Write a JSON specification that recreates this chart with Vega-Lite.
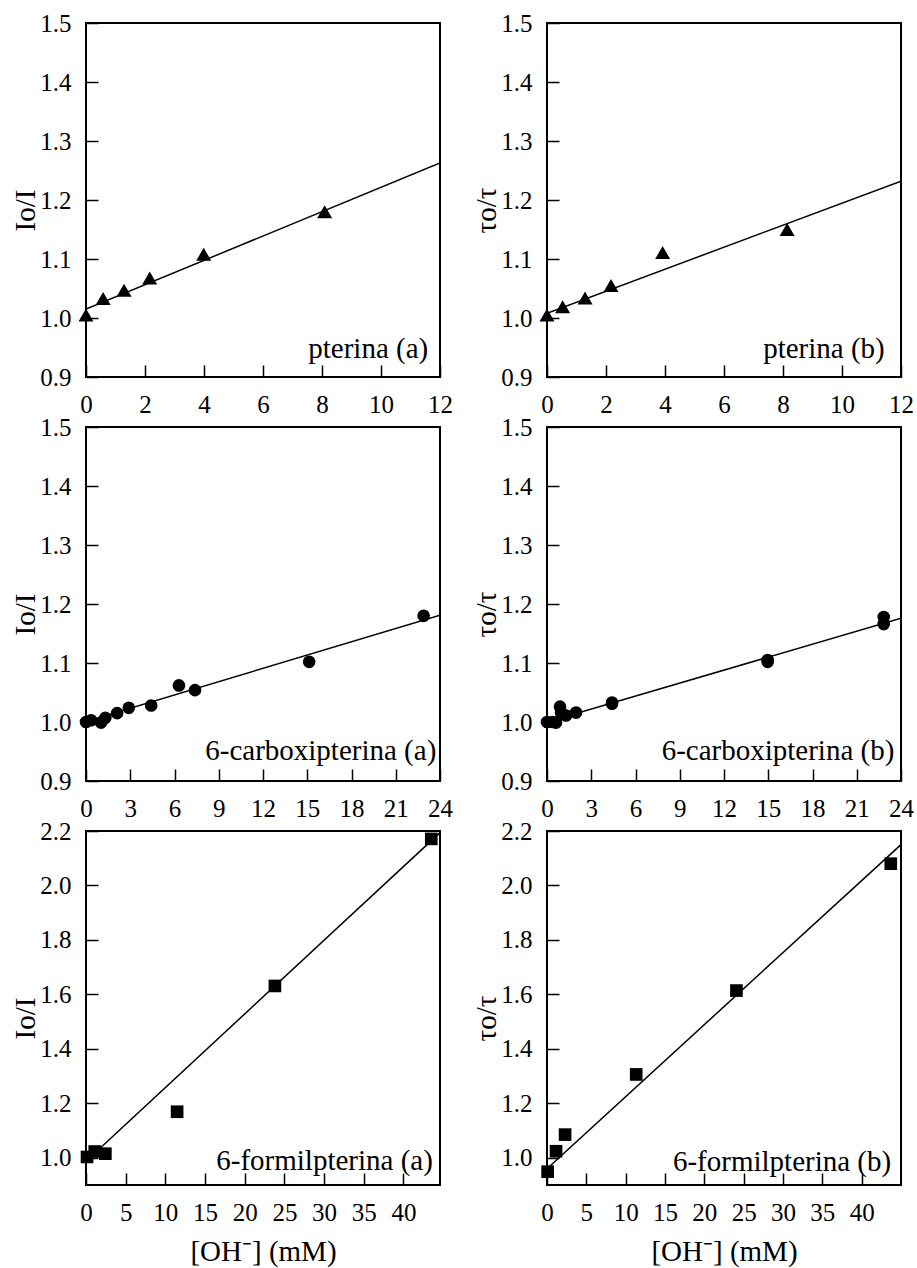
{
  "$schema": "https://vega.github.io/schema/vega-lite/v6.json",
  "background": "white",
  "padding": {"left": 10, "top": 10, "right": 5, "bottom": 5},
  "bounds": "flush",
  "columns": 2,
  "spacing": {"row": 50, "column": 107},
  "config": {
    "font": "Liberation Serif",
    "view": {"stroke": "black", "strokeWidth": 2},
    "axis": {
      "labelFont": "Liberation Serif", "titleFont": "Liberation Serif",
      "labelFontSize": 25, "titleFontSize": 29, "titleFontWeight": "normal",
      "labelColor": "black", "titleColor": "black", "tickColor": "black",
      "tickWidth": 1.5, "tickSize": -12, "labelPadding": 27,
      "grid": false, "domain": false, "labelFlush": false, "labelOverlap": false
    },
    "text": {"font": "Liberation Serif", "fontSize": 29, "align": "right", "baseline": "alphabetic", "color": "black"},
    "point": {"filled": true, "color": "black", "opacity": 1},
    "line": {"color": "black", "strokeWidth": 1.5}
  },
  "datasets": {
    "pa": [{"c": 0, "r": 1.005}, {"c": 0.58, "r": 1.033}, {"c": 1.29, "r": 1.047}, {"c": 2.16, "r": 1.068}, {"c": 3.99, "r": 1.108}, {"c": 8.09, "r": 1.18}],
    "pa_fit": [{"c": 0, "r": 1.015}, {"c": 12, "r": 1.263}],
    "pb": [{"c": 0, "r": 1.005}, {"c": 0.53, "r": 1.019}, {"c": 1.29, "r": 1.034}, {"c": 2.17, "r": 1.055}, {"c": 3.92, "r": 1.111}, {"c": 8.14, "r": 1.15}],
    "pb_fit": [{"c": 0, "r": 1.008}, {"c": 12, "r": 1.232}],
    "ca": [{"c": 0, "r": 1.0}, {"c": 0.34, "r": 1.003}, {"c": 1.02, "r": 0.999}, {"c": 1.31, "r": 1.007}, {"c": 2.11, "r": 1.015}, {"c": 2.9, "r": 1.024}, {"c": 4.42, "r": 1.028}, {"c": 6.3, "r": 1.062}, {"c": 7.39, "r": 1.054}, {"c": 15.13, "r": 1.102}, {"c": 22.89, "r": 1.18}],
    "ca_fit": [{"c": 0, "r": 1.001}, {"c": 24, "r": 1.181}],
    "cb": [{"c": 0, "r": 1.0}, {"c": 0.38, "r": 1.0}, {"c": 0.61, "r": 0.999}, {"c": 0.88, "r": 1.026}, {"c": 0.95, "r": 1.016}, {"c": 1.29, "r": 1.011}, {"c": 1.97, "r": 1.016}, {"c": 4.41, "r": 1.033}, {"c": 4.41, "r": 1.031}, {"c": 14.96, "r": 1.105}, {"c": 14.96, "r": 1.102}, {"c": 22.83, "r": 1.178}, {"c": 22.83, "r": 1.166}],
    "cb_fit": [{"c": 0, "r": 1.0}, {"c": 24, "r": 1.176}],
    "fa": [{"c": 0.13, "r": 1.003}, {"c": 1.1, "r": 1.023}, {"c": 2.44, "r": 1.015}, {"c": 11.48, "r": 1.169}, {"c": 23.8, "r": 1.631}, {"c": 43.5, "r": 2.171}],
    "fa_fit": [{"c": 0, "r": 0.987}, {"c": 44.6, "r": 2.194}],
    "fb": [{"c": 0.08, "r": 0.949}, {"c": 1.15, "r": 1.024}, {"c": 2.3, "r": 1.085}, {"c": 11.34, "r": 1.306}, {"c": 24.08, "r": 1.614}, {"c": 43.7, "r": 2.08}],
    "fb_fit": [{"c": 0, "r": 0.96}, {"c": 45, "r": 2.15}]
  },
  "concat": [
    {
      "width": 354, "height": 354,
      "encoding": {
        "x": {"field": "c", "type": "quantitative", "scale": {"domain": [0, 12], "nice": false, "zero": false}, "axis": {"title": null, "labelFont": "Liberation Serif", "values": [0, 2, 4, 6, 8, 10, 12]}},
        "y": {"field": "r", "type": "quantitative", "scale": {"domain": [0.9, 1.5], "nice": false, "zero": false}, "axis": {"title": "Io/I", "labelFont": "Liberation Serif", "titleFont": "Liberation Serif", "values": [0.9, 1.0, 1.1, 1.2, 1.3, 1.4, 1.5], "format": ".1f", "titleX": -46, "titleY": 187}}
      },
      "layer": [
        {"data": {"name": "pa_fit"}, "mark": {"type": "line", "clip": true}, "encoding": {}},
        {"data": {"name": "pa"}, "mark": {"type": "point", "shape": "triangle-up", "size": 225}},
        {"data": {"values": [{"c": 11.6, "r": 0.932, "label": "pterina (a)"}]}, "mark": {"type": "text", "font": "Liberation Serif"}, "encoding": {"text": {"field": "label"}}}
      ]
    },
    {
      "width": 354, "height": 354,
      "encoding": {
        "x": {"field": "c", "type": "quantitative", "scale": {"domain": [0, 12], "nice": false, "zero": false}, "axis": {"title": null, "labelFont": "Liberation Serif", "values": [0, 2, 4, 6, 8, 10, 12]}},
        "y": {"field": "r", "type": "quantitative", "scale": {"domain": [0.9, 1.5], "nice": false, "zero": false}, "axis": {"title": "τo/τ", "labelFont": "Liberation Serif", "titleFont": "Liberation Serif", "values": [0.9, 1.0, 1.1, 1.2, 1.3, 1.4, 1.5], "format": ".1f", "titleX": -46, "titleY": 187}}
      },
      "layer": [
        {"data": {"name": "pb_fit"}, "mark": {"type": "line", "clip": true}, "encoding": {}},
        {"data": {"name": "pb"}, "mark": {"type": "point", "shape": "triangle-up", "size": 225}},
        {"data": {"values": [{"c": 11.45, "r": 0.932, "label": "pterina (b)"}]}, "mark": {"type": "text", "font": "Liberation Serif"}, "encoding": {"text": {"field": "label"}}}
      ]
    },
    {
      "width": 354, "height": 354,
      "encoding": {
        "x": {"field": "c", "type": "quantitative", "scale": {"domain": [0, 24], "nice": false, "zero": false}, "axis": {"title": null, "labelFont": "Liberation Serif", "values": [0, 3, 6, 9, 12, 15, 18, 21, 24]}},
        "y": {"field": "r", "type": "quantitative", "scale": {"domain": [0.9, 1.5], "nice": false, "zero": false}, "axis": {"title": "Io/I", "labelFont": "Liberation Serif", "titleFont": "Liberation Serif", "values": [0.9, 1.0, 1.1, 1.2, 1.3, 1.4, 1.5], "format": ".1f", "titleX": -46, "titleY": 187}}
      },
      "layer": [
        {"data": {"name": "ca_fit"}, "mark": {"type": "line", "clip": true}, "encoding": {}},
        {"data": {"name": "ca"}, "mark": {"type": "point", "shape": "circle", "size": 160}},
        {"data": {"values": [{"c": 23.75, "r": 0.936, "label": "6-carboxipterina (a)"}]}, "mark": {"type": "text", "font": "Liberation Serif"}, "encoding": {"text": {"field": "label"}}}
      ]
    },
    {
      "width": 354, "height": 354,
      "encoding": {
        "x": {"field": "c", "type": "quantitative", "scale": {"domain": [0, 24], "nice": false, "zero": false}, "axis": {"title": null, "labelFont": "Liberation Serif", "values": [0, 3, 6, 9, 12, 15, 18, 21, 24]}},
        "y": {"field": "r", "type": "quantitative", "scale": {"domain": [0.9, 1.5], "nice": false, "zero": false}, "axis": {"title": "τo/τ", "labelFont": "Liberation Serif", "titleFont": "Liberation Serif", "values": [0.9, 1.0, 1.1, 1.2, 1.3, 1.4, 1.5], "format": ".1f", "titleX": -46, "titleY": 187}}
      },
      "layer": [
        {"data": {"name": "cb_fit"}, "mark": {"type": "line", "clip": true}, "encoding": {}},
        {"data": {"name": "cb"}, "mark": {"type": "point", "shape": "circle", "size": 160}},
        {"data": {"values": [{"c": 23.55, "r": 0.936, "label": "6-carboxipterina (b)"}]}, "mark": {"type": "text", "font": "Liberation Serif"}, "encoding": {"text": {"field": "label"}}}
      ]
    },
    {
      "width": 354, "height": 354,
      "encoding": {
        "x": {"field": "c", "type": "quantitative", "scale": {"domain": [0, 44.6], "nice": false, "zero": false}, "axis": {"title": "[OH⁻] (mM)", "labelFont": "Liberation Serif", "titleFont": "Liberation Serif", "values": [0, 5, 10, 15, 20, 25, 30, 35, 40], "titleY": 52}},
        "y": {"field": "r", "type": "quantitative", "scale": {"domain": [0.9, 2.2], "nice": false, "zero": false}, "axis": {"title": "Io/I", "labelFont": "Liberation Serif", "titleFont": "Liberation Serif", "values": [1.0, 1.2, 1.4, 1.6, 1.8, 2.0, 2.2], "format": ".1f", "titleX": -46, "titleY": 187}}
      },
      "layer": [
        {"data": {"name": "fa_fit"}, "mark": {"type": "line", "clip": true}, "encoding": {}},
        {"data": {"name": "fa"}, "mark": {"type": "point", "shape": "square", "size": 160}},
        {"data": {"values": [{"c": 43.7, "r": 0.955, "label": "6-formilpterina (a)"}]}, "mark": {"type": "text", "font": "Liberation Serif"}, "encoding": {"text": {"field": "label"}}}
      ]
    },
    {
      "width": 354, "height": 354,
      "encoding": {
        "x": {"field": "c", "type": "quantitative", "scale": {"domain": [0, 45], "nice": false, "zero": false}, "axis": {"title": "[OH⁻] (mM)", "labelFont": "Liberation Serif", "titleFont": "Liberation Serif", "values": [0, 5, 10, 15, 20, 25, 30, 35, 40], "titleY": 52}},
        "y": {"field": "r", "type": "quantitative", "scale": {"domain": [0.9, 2.2], "nice": false, "zero": false}, "axis": {"title": "τo/τ", "labelFont": "Liberation Serif", "titleFont": "Liberation Serif", "values": [1.0, 1.2, 1.4, 1.6, 1.8, 2.0, 2.2], "format": ".1f", "titleX": -46, "titleY": 187}}
      },
      "layer": [
        {"data": {"name": "fb_fit"}, "mark": {"type": "line", "clip": true}, "encoding": {}},
        {"data": {"name": "fb"}, "mark": {"type": "point", "shape": "square", "size": 160}},
        {"data": {"values": [{"c": 43.75, "r": 0.952, "label": "6-formilpterina (b)"}]}, "mark": {"type": "text", "font": "Liberation Serif"}, "encoding": {"text": {"field": "label"}}}
      ]
    }
  ]
}
